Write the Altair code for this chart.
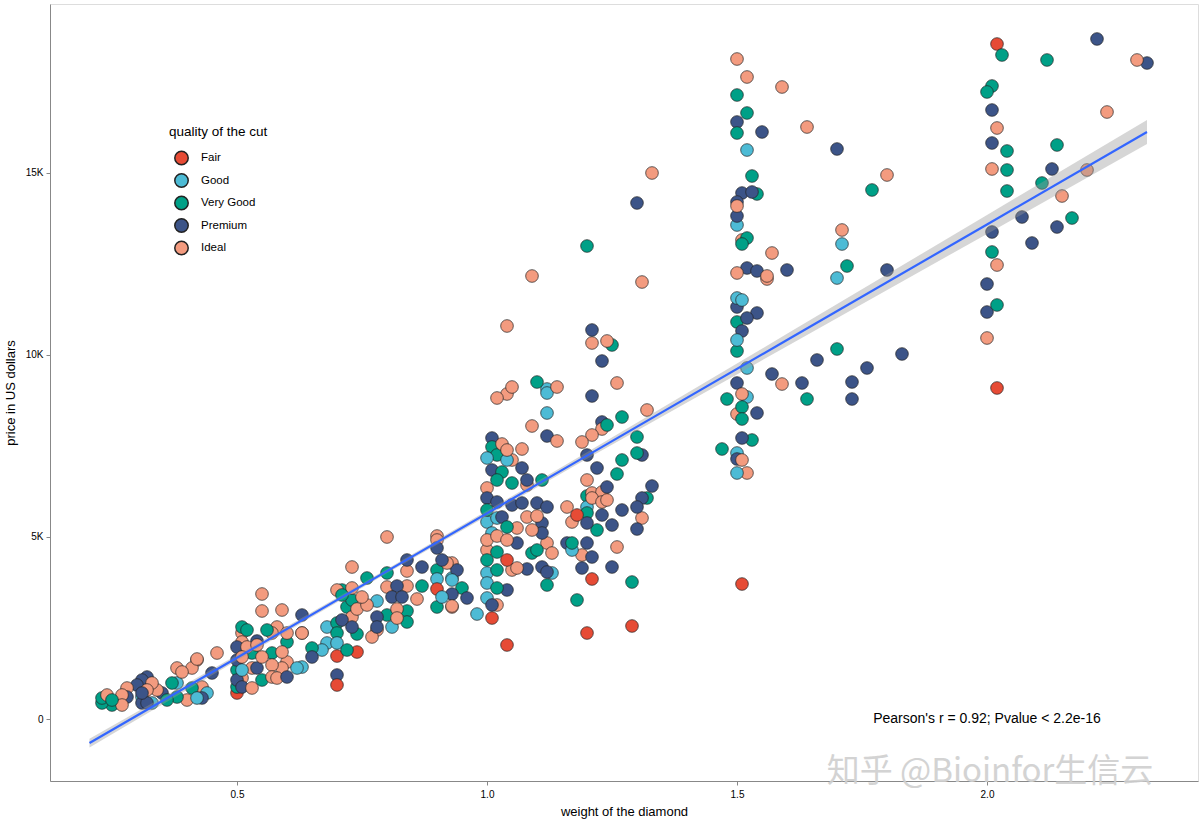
import altair as alt
import pandas as pd

# ---- data (carat, price in USD) ----
fair_carat = [2.02, 2.02, 1.51, 1.21, 1.20, 1.29, 1.04, 1.01, 1.04, 1.18, 0.90, 0.74, 0.70, 0.70, 0.50]
fair_price = [18542, 9093, 3708, 3846, 2362, 2555, 2033, 2774, 4368, 5604, 3571, 1840, 1730, 934, 714]

good_carat = [1.52, 1.50, 1.71, 1.70, 1.50, 1.51, 1.50, 1.52, 1.52, 1.50, 1.50, 1.12, 1.12, 1.12, 0.98,
              1.00, 1.04, 1.02, 1.00, 1.01, 1.00, 1.13, 1.00, 1.00, 1.17, 1.20, 0.93, 0.90, 0.91, 0.78,
              0.81, 0.68, 0.68, 0.67, 0.70, 0.63, 0.62, 0.51, 0.44, 0.42, 0.31, 0.33, 0.38, 0.93]
good_price = [15630, 13570, 13048, 12114, 11565, 11510, 10411, 9642, 8845, 7307, 6758, 9065, 8955, 8406, 2884,
              7170, 7115, 5521, 5412, 5109, 4011, 4011, 3736, 3324, 4642, 5824, 3818, 3845, 3351, 3241,
              2527, 2527, 2088, 1895, 2088, 1428, 1401, 1346, 714, 577, 604, 440, 989, 3873]

vgood_carat = [2.03, 2.12, 2.01, 2.00, 2.04, 2.14, 2.04, 2.11, 2.04, 2.17, 2.01, 2.02,
               1.50, 1.52, 1.50, 1.53, 1.77, 1.54, 1.52, 1.51, 1.72, 1.50, 1.50, 1.70, 1.64, 1.48, 1.51, 1.51, 1.53, 1.47,
               1.20, 1.25, 1.10, 1.24, 1.27, 1.27, 1.30, 1.30, 1.26, 1.32, 1.29, 1.18,
               1.01, 1.02, 1.03, 1.02, 1.05, 1.11, 1.00, 1.04, 1.09, 1.10, 1.02, 1.02, 1.00, 1.12, 1.02, 1.20, 1.22, 1.17, 1.20,
               0.90, 0.95, 0.90, 0.84, 0.80, 0.84, 0.76, 0.80, 0.87, 0.71, 0.71, 0.72, 0.73, 0.74, 0.70, 0.70, 0.72, 0.65,
               0.51, 0.52, 0.56, 0.60, 0.53, 0.57, 0.50, 0.55, 0.50,
               0.37, 0.41, 0.38, 0.36, 0.25, 0.25, 0.23, 0.23]
vgood_price = [18240, 18103, 17389, 17224, 15603, 15768, 15081, 14724, 14504, 13762, 12829, 11373,
               17141, 16647, 16097, 14916, 14532, 14422, 13213, 13048, 12444, 10906, 10109, 10164, 8790, 8790, 8571, 8241, 7664, 7417,
               12993, 10274, 9257, 8076, 8296, 7115, 7747, 7307, 6730, 6071, 3763, 3269,
               7472, 7252, 6785, 6565, 6483, 6565, 5741, 5274, 4560, 4642, 4587, 4093, 4368, 3681, 3599, 5659, 5192, 4835, 6126,
               4093, 3599, 3077, 2967, 2857, 2665, 3873, 4011, 3653, 3406, 3543, 3077, 3269, 2335, 2637, 2362, 1895, 1950,
               2527, 2445, 2445, 2115, 1813, 1813, 1346, 1071, 879,
               989, 851, 604, 522, 522, 384, 440, 577]

prem_carat = [2.22, 2.32, 2.01, 2.01, 2.13, 2.07, 2.14, 2.01, 2.09, 2.00, 2.00,
              1.50, 1.55, 1.70, 1.51, 1.53, 1.50, 1.50, 1.52, 1.54, 1.60, 1.80, 1.50, 1.54, 1.52, 1.51, 1.57, 1.66, 1.83,
              1.76, 1.63, 1.73, 1.73, 1.50, 1.54, 1.51, 1.50,
              1.30, 1.21, 1.23, 1.21, 1.12, 1.23, 1.20, 1.22, 1.31, 1.33, 1.31, 1.30, 1.30, 1.25,
              1.01, 1.01, 1.07, 1.08, 1.00, 1.02, 1.05, 1.07, 1.10, 1.12, 1.03, 1.11, 1.11, 1.06, 1.08, 1.11, 1.12, 1.04,
              1.01, 1.24, 1.20, 1.23, 1.25, 1.27, 1.16, 1.20, 1.21, 1.19, 0.94, 0.96,
              0.90, 0.91, 0.84, 0.87, 0.82, 0.81, 0.83, 0.93, 0.78, 0.78, 0.71, 0.73, 0.65, 0.70, 0.63,
              0.54, 0.50, 0.50, 0.54, 0.50, 0.51, 0.60,
              0.45, 0.43, 0.35, 0.32, 0.31, 0.30, 0.31, 0.32, 0.31, 0.28]
prem_price = [18680, 18020, 16729, 15823, 15109, 13790, 13515, 13378, 13076, 11949, 11180,
              16400, 16125, 15658, 14449, 14477, 14202, 13817, 12389, 12307, 12334, 12334, 11318, 11153, 11015, 10658, 9477, 9862, 10027,
              9642, 9230, 9257, 8790, 9230, 8406, 7719, 7142,
              14175, 10686, 9834, 8873, 7774, 8159, 7252, 6895, 7252, 6400, 6071, 5824, 5219, 4175,
              7719, 6840, 6895, 6565, 6071, 5961, 5879, 5934, 5934, 5824, 5549, 5384, 5109, 4835, 4121, 4175, 4038, 3544,
              3132, 6373, 5384, 5604, 5329, 5741, 4835, 4835, 4450, 4148, 4093, 3324,
              4697, 4368, 4368, 4175, 3653, 3351, 3351, 3433, 2802, 2527, 2720, 2527, 1703, 1209, 2857,
              2143, 1978, 1621, 1401, 1071, 879, 1154,
              1264, 577, 714, 1154, 1071, 934, 440, 440, 714, 604]

ideal_carat = [2.30, 2.24, 2.02, 2.01, 2.20, 2.15, 2.02, 2.00,
               1.50, 1.52, 1.59, 1.64, 1.80, 1.50, 1.51, 1.71, 1.57, 1.50, 1.56, 1.56, 1.59, 1.51, 1.50, 1.51, 1.52,
               1.33, 1.09, 1.31, 1.04, 1.21, 1.24, 1.26, 1.05, 1.14, 1.02, 1.04, 1.09, 1.14, 1.32, 1.23, 1.21, 1.19, 1.31, 1.26,
               1.03, 1.04, 1.05, 1.07, 1.08, 1.00, 1.08, 1.10, 1.06, 1.09, 1.00, 1.02, 1.04, 1.12, 1.13, 1.00, 1.05, 1.06, 1.02,
               1.16, 1.17, 1.21, 1.23, 1.24, 1.21, 1.23, 1.20, 1.19, 0.93, 0.93,
               0.90, 0.90, 0.92, 0.73, 0.84, 0.84, 0.80, 0.73, 0.70, 0.76, 0.75, 0.86, 0.93, 0.82, 0.82, 0.78, 0.77, 0.73, 0.74, 0.63, 0.80,
               0.55, 0.55, 0.59, 0.46, 0.42, 0.51, 0.51, 0.58, 0.57, 0.60, 0.63, 0.52, 0.54, 0.51, 0.55, 0.59, 0.60, 0.59, 0.57, 0.53,
               0.51, 0.57, 0.58, 0.53,
               0.42, 0.41, 0.39, 0.38, 0.43, 0.40, 0.34, 0.33, 0.32, 0.28, 0.27, 0.27, 0.24]
ideal_price = [18103, 16674, 16235, 15109, 15081, 14367, 12471, 10466,
               18130, 17636, 17361, 16262, 14944, 14092, 13158, 13433, 12801, 12252, 12087, 12170, 9202, 8928, 8378, 7115, 6758,
               14999, 12169, 12004, 10796, 10329, 10384, 9230, 9120, 9120, 8818, 8928, 8049, 7637, 8488, 7966, 7801, 7609, 5521, 4725,
               7554, 7389, 7115, 7417, 6428, 6346, 5549, 5576, 5247, 5192, 4917, 5027, 4917, 4835, 4560, 4642, 4093, 4148, 3132,
               5824, 5412, 6071, 5961, 6016, 6208, 6236, 6565, 4505, 4285, 3077,
               5027, 4917, 4285, 4175, 4066, 3653, 3626, 3599, 3543, 3132, 3351, 3296, 3104, 3022, 2774, 2445, 2253, 2802, 3022, 2362, 5000,
               3434, 2967, 2994, 1813, 1648, 2362, 2115, 2527, 2362, 2362, 2362, 1978, 2033, 1703, 1703, 1840, 1566, 1401, 1483, 1401,
               1126, 1154, 1126, 852,
               1621, 1401, 1291, 1401, 879, 522, 797, 989, 797, 851, 659, 384, 659]

cuts = ["Fair", "Good", "Very Good", "Premium", "Ideal"]
cut_colors = ["#E64B35", "#4DBBD5", "#00A087", "#3C5488", "#F39B7F"]

# fitted linear model: line and confidence band
fit_carat = [0.205, 0.5, 0.8, 1.2, 1.6, 2.0, 2.32]
fit_price = [-660, 1681, 4061, 7236, 10410, 13585, 16125]
fit_halfwidth = [120, 75, 60, 90, 170, 260, 330]

annot_text = "Pearson's r = 0.92; Pvalue < 2.2e-16"
annot_carat = 2.0
annot_price = 0
watermark = "知乎 @Bioinfor生信云"

# ---- build tables ----
groups = [(fair_carat, fair_price), (good_carat, good_price), (vgood_carat, vgood_price),
          (prem_carat, prem_price), (ideal_carat, ideal_price)]
rows = []
for cut, (cs, ps) in zip(cuts, groups):
    for c, p in zip(cs, ps):
        rows.append({"carat": c, "price": p, "cut": cut})
pts = pd.DataFrame(rows)
# interleave drawing order like the original (mixed)
pts["order"] = [(i * 37) % len(pts) for i in range(len(pts))]

fit = pd.DataFrame({
    "carat": fit_carat,
    "price": fit_price,
    "lo": [p - h for p, h in zip(fit_price, fit_halfwidth)],
    "hi": [p + h for p, h in zip(fit_price, fit_halfwidth)],
})
ann = pd.DataFrame({"carat": [annot_carat], "price": [annot_price], "label": [annot_text]})
wm = pd.DataFrame({"label": [watermark]})

xscale = alt.Scale(domain=[0.126, 2.422], nice=False, zero=False)
yscale = alt.Scale(domain=[-1703, 19641], nice=False, zero=False)

xaxis = alt.Axis(values=[0.5, 1.0, 1.5, 2.0], format=".1f", title="weight of the diamond",
                 grid=False, tickSize=4, labelPadding=4, titlePadding=6,
                 titleFontWeight="normal", titleFontSize=13)
yaxis = alt.Axis(values=[0, 5000, 10000, 15000], title="price in US dollars", grid=False,
                 labelExpr="datum.value == 0 ? '0' : (datum.value / 1000) + 'K'",
                 tickSize=4, labelPadding=3, titlePadding=8,
                 titleFontWeight="normal", titleFontSize=13)

points = alt.Chart(pts).mark_circle(size=160, opacity=1, stroke="#222222", strokeWidth=0.7).encode(
    x=alt.X("carat:Q", scale=xscale, axis=xaxis),
    y=alt.Y("price:Q", scale=yscale, axis=yaxis),
    color=alt.Color("cut:N", scale=alt.Scale(domain=cuts, range=cut_colors),
                    sort=cuts,
                    legend=alt.Legend(title="quality of the cut", orient="none",
                                      legendX=119, legendY=121,
                                      titleFontWeight="normal", titleFontSize=13.5,
                                      labelFontSize=11.5, symbolSize=180,
                                      symbolOffset=5, labelOffset=12,
                                      rowPadding=1.5, titlePadding=12)),
    order=alt.Order("order:Q"),
)

band = alt.Chart(fit).mark_area(color="#999999", opacity=0.4).encode(
    x=alt.X("carat:Q", scale=xscale), y=alt.Y("lo:Q", scale=yscale), y2="hi:Q")

line = alt.Chart(fit).mark_line(color="#3366FF", strokeWidth=2.2).encode(
    x=alt.X("carat:Q", scale=xscale), y=alt.Y("price:Q", scale=yscale))

annot = alt.Chart(ann).mark_text(fontSize=14, color="black", font="Liberation Sans").encode(
    x=alt.X("carat:Q", scale=xscale), y=alt.Y("price:Q", scale=yscale), text="label:N")

wmark = alt.Chart(wm).mark_text(fontSize=33, color="#cfcfcf", opacity=0.9, font="Noto Sans CJK SC",
                                align="center", baseline="middle").encode(
    x=alt.value(940), y=alt.value(768), text="label:N")

chart = alt.layer(points, band, line, annot, wmark).properties(
    width=1148, height=777,
    autosize=alt.AutoSizeParams(type="none"),
    padding={"left": 50, "top": 4, "right": 2, "bottom": 43},
).configure_view(
    stroke="#888888", strokeWidth=1
).configure_axis(
    domainColor="#555555", tickColor="#555555", labelColor="#4D4D4D",
    labelFontSize=11, titleFontSize=13, titleColor="#1a1a1a", titleFontWeight="normal",
    labelFont="Liberation Sans", titleFont="Liberation Sans",
).configure_legend(
    titleFontSize=13, titleFontWeight="normal", titleColor="#1a1a1a", titleFont="Liberation Sans",
    labelFontSize=11.5, labelColor="#1a1a1a", labelFont="Liberation Sans",
    symbolType="circle", symbolStrokeColor="#222222", symbolStrokeWidth=0.7,
    symbolOpacity=1, padding=0,
).configure(background="white")

chart.save("out.html", embed_options={"renderer": "svg", "actions": False})
